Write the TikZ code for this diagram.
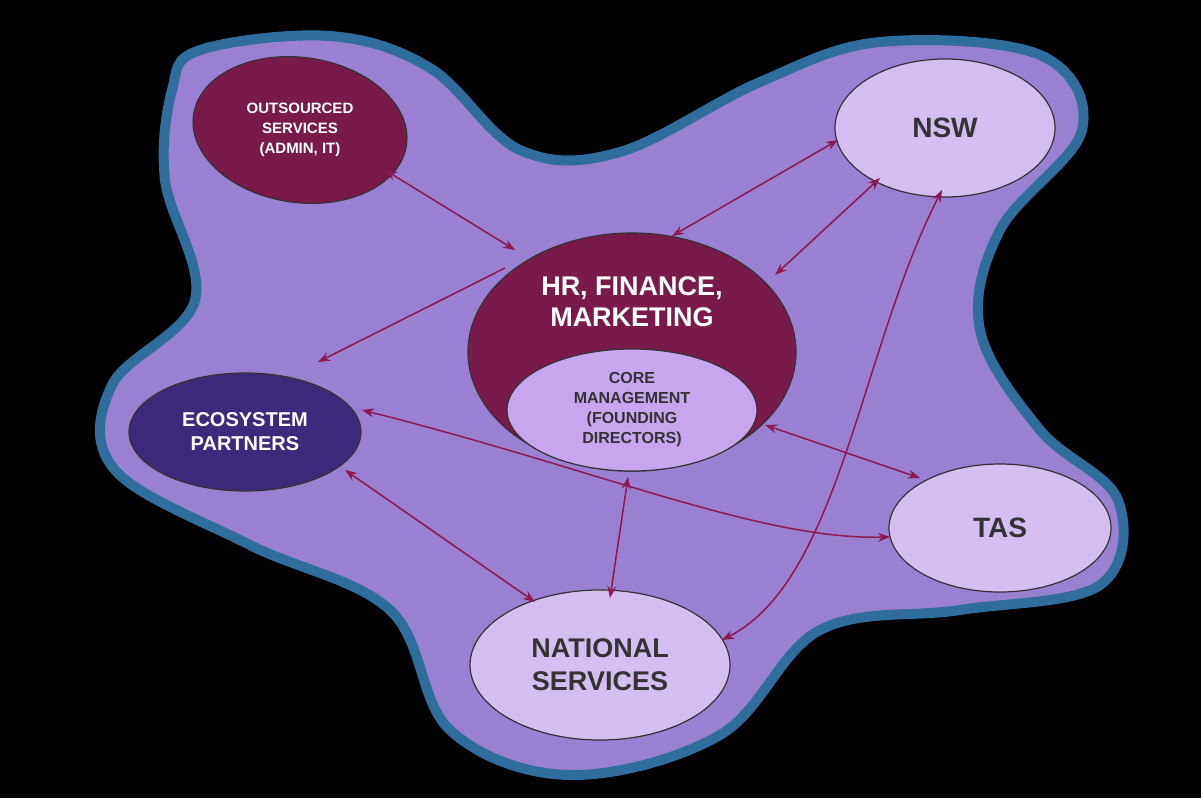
\documentclass[tikz,border=0pt]{standalone}
\usepackage{fontspec}
\setmainfont{Liberation Sans}
\usetikzlibrary{arrows.meta,shapes.geometric}
\definecolor{maroon}{HTML}{7A1A4A}
\definecolor{arr}{HTML}{8A1A50}
\definecolor{lav}{HTML}{D4BEF0}
\definecolor{core}{HTML}{C8A6EE}
\definecolor{blobf}{HTML}{9A80D2}
\definecolor{blobb}{HTML}{2F6E9C}
\definecolor{indigo}{HTML}{3E2A7C}
\definecolor{txt}{HTML}{333333}
\tikzset{
 ell/.style={draw=black!80, line width=1.2pt, ellipse, inner sep=0pt, font=\bfseries, align=center},
 lnk/.style={draw=arr, line width=1.5pt, {Stealth[length=12pt,width=9pt]}-{Stealth[length=12pt,width=9pt]}},
 lnk1/.style={draw=arr, line width=1.5pt, -{Stealth[length=12pt,width=9pt]}},
}
\begin{document}
\begin{tikzpicture}[x=1pt,y=-1pt]
\fill[black] (0,0) rectangle (1201,798);
\useasboundingbox (0,0) rectangle (1201,798);
\path[fill=blobf, draw=blobb, line width=10pt] plot[smooth cycle, tension=0.6] coordinates {
(200,50)(330,36)(430,68)(520,150)(620,152)(760,82)(880,42)(1040,55)(1082,130)(1000,230)(980,330)(1040,430)(1118,500)(1100,585)(960,610)(820,630)(720,735)(570,775)(450,730)(390,610)(250,545)(115,470)(112,385)(195,300)(165,180)(172,90)};
% nodes
\node[ell, fill=maroon, minimum width=215pt, minimum height=145pt, rotate=-8] (outs) at (300,130) {};
\node[text=white, font=\bfseries\fontsize{15}{20}\selectfont, align=center] (out) at (300,130) {OUTSOURCED\\SERVICES\\(ADMIN, IT)};
\node[ell, fill=lav, text=txt, minimum width=220pt, minimum height=138pt, font=\bfseries\fontsize{28}{32}\selectfont] (nsw) at (945,128) {NSW};
\node[ell, fill=maroon, text=white, minimum width=328pt, minimum height=238pt] (hr) at (632,352) {};
\node[text=white, font=\bfseries\fontsize{27}{31}\selectfont, align=center] (hrt) at (632,302) {HR, FINANCE,\\MARKETING};
\node[ell, fill=core, text=txt, minimum width=250pt, minimum height=122pt, font=\bfseries\fontsize{16}{20}\selectfont] (core) at (632,410) {CORE\\MANAGEMENT\\(FOUNDING\\DIRECTORS)};
\node[ell, fill=indigo, text=white, minimum width=232pt, minimum height=118pt, font=\bfseries\fontsize{20}{24}\selectfont] (eco) at (245,432) {ECOSYSTEM\\PARTNERS};
\node[ell, fill=lav, text=txt, minimum width=222pt, minimum height=128pt, font=\bfseries\fontsize{28}{32}\selectfont] (tas) at (1000,528) {TAS};
\node[ell, fill=lav, text=txt, minimum width=260pt, minimum height=150pt, font=\bfseries\fontsize{27}{33}\selectfont] (nat) at (600,665) {NATIONAL\\SERVICES};
% connectors
\coordinate (a1) at (385,170); \coordinate (a2) at (515,250);
\draw[lnk] (a1) -- (a2);
\coordinate (b1) at (672,236); \coordinate (b2) at (838,140);
\draw[lnk] (b1) -- (b2);
\coordinate (c1) at (775,275); \coordinate (c2) at (880,178);
\draw[lnk] (c1) -- (c2);
\coordinate (d1) at (505,268); \coordinate (d2) at (318,362);
\draw[lnk1] (d1) -- (d2);
\coordinate (e1) at (362,410); \coordinate (e2) at (890,537);
\draw[lnk] (e1) .. controls (600,470) and (760,540) .. (e2);
\coordinate (f1) at (765,425); \coordinate (f2) at (920,478);
\draw[lnk] (f1) -- (f2);
\coordinate (g1) at (345,470); \coordinate (g2) at (535,602);
\draw[lnk] (g1) -- (g2);
\coordinate (h1) at (628,477); \coordinate (h2) at (610,598);
\draw[lnk] (h1) -- (h2);
\coordinate (i1) at (942,190); \coordinate (i2) at (722,640);
\draw[lnk] (i1) .. controls (860,350) and (840,580) .. (i2);
\end{tikzpicture}
\end{document}
